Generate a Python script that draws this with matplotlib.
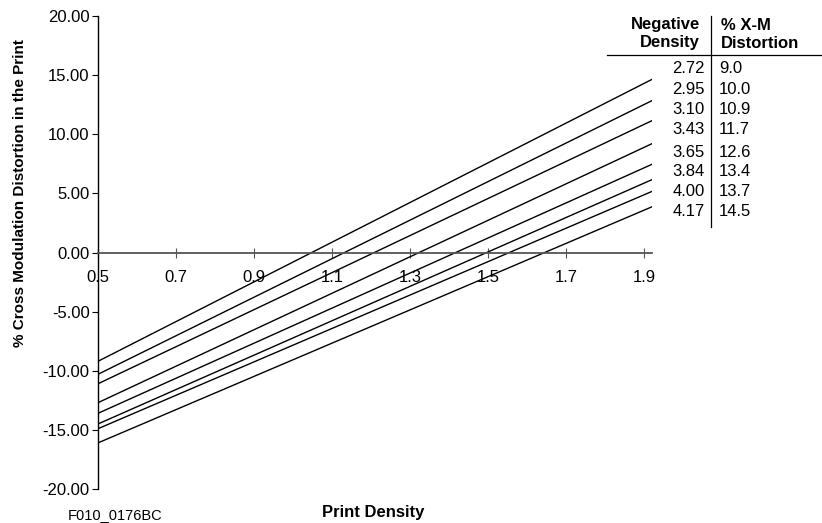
import matplotlib.pyplot as plt
import numpy as np

plt.rcParams['font.family'] = ['Liberation Sans', 'DejaVu Sans']

# negative density -> % X-M distortion (table at upper right)
neg_density = ["2.72", "2.95", "3.10", "3.43", "3.65", "3.84", "4.00", "4.17"]
xm_distortion = ["9.0", "10.0", "10.9", "11.7", "12.6", "13.4", "13.7", "14.5"]

# each line runs from print density 0.5 to 1.93
x_start = 0.5
x_end = 1.93
y_start = [-9.2, -10.3, -11.1, -12.7, -13.6, -14.5, -14.9, -16.1]
y_end = [14.8, 13.0, 11.3, 9.35, 7.6, 6.3, 5.3, 4.0]

W, H = 822, 523
fig = plt.figure(figsize=(W / 100, H / 100), dpi=100)
ax = fig.add_axes([98 / W, 1 - 489 / H, (652 - 98) / W, (489 - 16) / H])

for y0, y1 in zip(y_start, y_end):
    ax.plot([x_start, x_end], [y0, y1], color='black', lw=1.0)

ax.set_xlim(0.5, 0.5 + (652 - 98) / 390)
ax.set_ylim(-20, 20)
ax.set_yticks(np.arange(-20, 21, 5))
ax.set_yticklabels([f"{v:.2f}" for v in np.arange(-20, 21, 5)])
ax.set_xticks([0.5, 0.7, 0.9, 1.1, 1.3, 1.5, 1.7, 1.9])
ax.set_xticklabels(["0.5", "0.7", "0.9", "1.1", "1.3", "1.5", "1.7", "1.9"])

ax.spines['top'].set_visible(False)
ax.spines['right'].set_visible(False)
ax.spines['bottom'].set_position(('data', 0))
ax.spines['bottom'].set_color('#555555')
ax.spines['bottom'].set_linewidth(1.3)
ax.spines['left'].set_linewidth(1.0)
ax.tick_params(axis='y', direction='out', length=4, labelsize=12, pad=2)
ax.tick_params(axis='x', direction='inout', length=7, labelsize=12, pad=9,
               color='#555555')
ax.patch.set_visible(False)

fig.text(20 / W, 1 - 193 / H, "% Cross Modulation Distortion in the Print",
         rotation=90, ha='center', va='center', fontsize=11, fontweight='bold')
fig.text(373 / W, 1 - 513 / H, "Print Density", ha='center', va='center',
         fontsize=12, fontweight='bold')
fig.text(68 / W, 1 - 515 / H, "F010_0176BC", ha='left', va='center', fontsize=10.5)

# table
fig.text(700 / W, 1 - 25 / H, "Negative", ha='right', va='center',
         fontsize=12, fontweight='bold')
fig.text(700 / W, 1 - 43 / H, "Density", ha='right', va='center',
         fontsize=12, fontweight='bold')
fig.text(721 / W, 1 - 25 / H, "% X-M", ha='left', va='center',
         fontsize=12, fontweight='bold')
fig.text(721 / W, 1 - 43 / H, "Distortion", ha='left', va='center',
         fontsize=12, fontweight='bold')
fig.add_artist(plt.Line2D([607 / W, 1.0], [1 - 55 / H, 1 - 55 / H],
                          color='black', lw=0.9))
fig.add_artist(plt.Line2D([711 / W, 711 / W], [1 - 16 / H, 1 - 227 / H],
                          color='black', lw=0.9))
row_y = [69, 89, 110, 129, 152, 172, 191, 211]
for yy, nd, xm in zip(row_y, neg_density, xm_distortion):
    fig.text(705 / W, 1 - yy / H, nd, ha='right', va='center', fontsize=12)
    fig.text(719 / W, 1 - yy / H, xm, ha='left', va='center', fontsize=12)

fig.savefig("out.png", dpi=100)
